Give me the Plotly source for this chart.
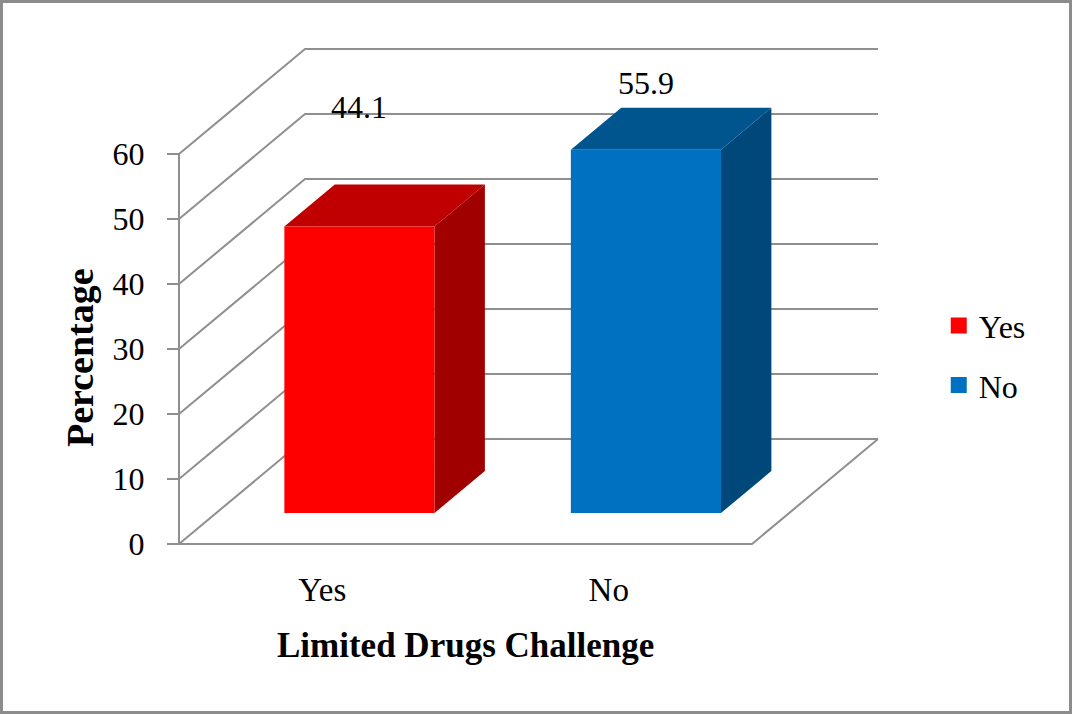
import plotly.graph_objects as go

# ---------------- data ----------------
categories = ["Yes", "No"]
values = [44.1, 55.9]
y_ticks = [0, 10, 20, 30, 40, 50, 60]

# ---------------- style ----------------
front_colors = ["#FF0000", "#0070C0"]
top_colors = ["#C00000", "#00558F"]
side_colors = ["#A00000", "#00477A"]
label_lift = [23.1, 15.0]          # vertical offset of value labels (value units)
GRID = dict(color="#8f8f8f", width=2)
FONT = "Liberation Serif, Times New Roman, serif"

W, H = 1072, 714
X0_PX, Y0_PX = 179, 544            # pixel of front floor origin
PX_PER_CAT, PX_PER_UNIT = 286.5, 6.5

# oblique 3D projection (depth shift)
DX = 126 / PX_PER_CAT               # depth shift in category units
DY = 105 / PX_PER_UNIT              # depth shift in value units
D_FRONT, D_BACK = 0.295, 0.695
HW = 0.262                          # half bar width (category units)
YMAX = max(y_ticks)


def proj(x, v, d):
    return x + d * DX, v + d * DY


def poly(pts):
    xs, ys = zip(*[proj(*p) for p in pts])
    return list(xs) + [xs[0]], list(ys) + [ys[0]]


fig = go.Figure()

# back wall gridlines + left wall diagonals
for t in y_ticks:
    fig.add_trace(go.Scatter(x=[0, DX, len(categories) + DX], y=[t, t + DY, t + DY],
                             mode="lines", line=GRID, hoverinfo="skip", showlegend=False))
# floor front + right edges
fig.add_trace(go.Scatter(x=[0, len(categories), len(categories) + DX], y=[0, 0, DY],
                         mode="lines", line=GRID, hoverinfo="skip", showlegend=False))
# front vertical axis line
fig.add_trace(go.Scatter(x=[0, 0], y=[0, YMAX], mode="lines", line=GRID,
                         hoverinfo="skip", showlegend=False))

# 3D bars
for i, (cat, val) in enumerate(zip(categories, values)):
    c = i + 0.5
    l, r = c - HW, c + HW
    side = poly([(r, 0, D_FRONT), (r, 0, D_BACK), (r, val, D_BACK), (r, val, D_FRONT)])
    top = poly([(l, val, D_FRONT), (r, val, D_FRONT), (r, val, D_BACK), (l, val, D_BACK)])
    front = poly([(l, 0, D_FRONT), (r, 0, D_FRONT), (r, val, D_FRONT), (l, val, D_FRONT)])
    for (xs, ys), col in ((side, side_colors[i]), (top, top_colors[i]), (front, front_colors[i])):
        fig.add_trace(go.Scatter(x=xs, y=ys, mode="lines", fill="toself", fillcolor=col,
                                 line=dict(width=0, color=col), hoverinfo="skip",
                                 showlegend=False))
    # value label
    fig.add_annotation(x=c + D_FRONT * DX, y=val + label_lift[i], text=f"{val}",
                       showarrow=False, font=dict(family=FONT, size=32, color="black"))

# legend entries
for i, cat in enumerate(categories):
    fig.add_trace(go.Scatter(x=[None], y=[None], mode="markers", name=cat,
                             legendgroup=cat,
                             marker=dict(symbol="square", size=17, color=front_colors[i],
                                         line=dict(width=0))))

# axis titles
fig.add_annotation(x=(80 - X0_PX) / PX_PER_CAT, y=(Y0_PX - 358) / PX_PER_UNIT,
                   text="Percentage", textangle=-90, showarrow=False,
                   font=dict(family=FONT, size=38, color="black", weight="bold"))
fig.add_annotation(x=len(categories) / 2, y=(Y0_PX - 645) / PX_PER_UNIT,
                   text="Limited Drugs Challenge", showarrow=False,
                   font=dict(family=FONT, size=35, color="black", weight="bold"))

fig.update_layout(
    width=W, height=H, autosize=False,
    margin=dict(l=0, r=0, t=0, b=0, pad=0),
    paper_bgcolor="white", plot_bgcolor="white",
    xaxis=dict(range=[-X0_PX / PX_PER_CAT, (W - X0_PX) / PX_PER_CAT],
               anchor="free", position=(H - Y0_PX) / H,
               tickvals=[i + 0.5 for i in range(len(categories))], ticktext=categories,
               ticks="", showline=False, showgrid=False, zeroline=False,
               tickfont=dict(family=FONT, size=33, color="black"),
               ticklabelstandoff=23, automargin=False, fixedrange=True),
    yaxis=dict(range=[(Y0_PX - H) / PX_PER_UNIT, Y0_PX / PX_PER_UNIT],
               anchor="free", position=X0_PX / W,
               tickvals=y_ticks, ticks="outside", ticklen=12, tickwidth=2,
               tickcolor="#8f8f8f", showline=False, showgrid=False, zeroline=False,
               tickfont=dict(family=FONT, size=32, color="black"),
               ticklabelstandoff=16, automargin=False, fixedrange=True),
    legend=dict(x=0.8757, y=0.5824, xanchor="left", yanchor="top",
                font=dict(family=FONT, size=32, color="black"),
                traceorder="grouped", tracegroupgap=15,
                bgcolor="rgba(0,0,0,0)"),
    shapes=[dict(type="rect", xref="paper", yref="paper", x0=0.0014, y0=0.002,
                 x1=0.9986, y1=0.998, line=dict(color="#8c8c8c", width=3))],
)

fig.write_html("out.html")
